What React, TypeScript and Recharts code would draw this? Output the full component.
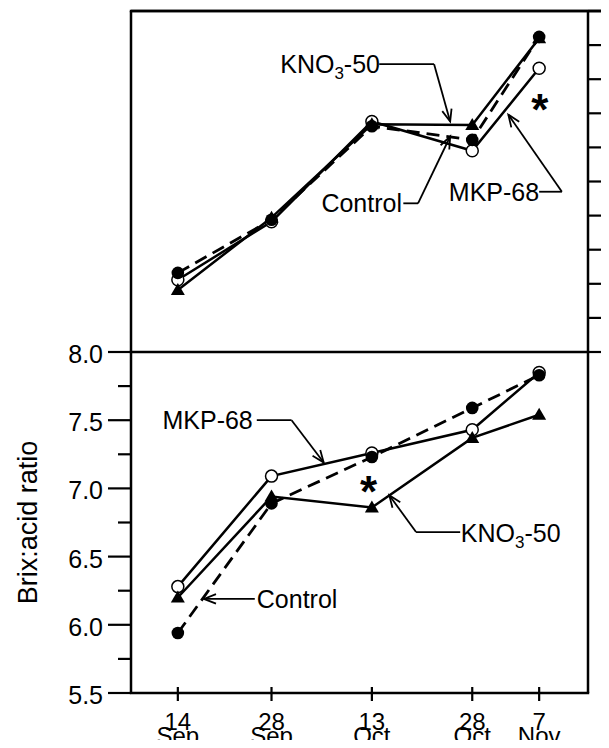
import { Label, Line, LineChart, ReferenceDot, ReferenceLine, XAxis, YAxis } from "recharts"

const FONT = "'Liberation Sans', Arial, Helvetica, sans-serif"

// sampling dates, counted as days from 31 Aug
const samplingDays = [14, 28, 43, 58, 68]
const dayLabels = ["14", "28", "13", "28", "7"]
const monthLabels = ["Sep", "Sep", "Oct", "Oct", "Nov"]

// upper panel (scale labels are cut off in the source)
const controlUpper = [10.16, 10.94, 12.31, 12.11, 13.62]
const mkpUpper = [10.06, 10.91, 12.38, 11.95, 13.16]
const knoUpper = [9.91, 10.97, 12.34, 12.33, 13.6]
const upperTicks = [9, 9.5, 10, 10.5, 11, 11.5, 12, 12.5, 13, 13.5, 14]

// lower panel: Brix:acid ratio
const controlRatio = [5.94, 6.89, 7.23, 7.59, 7.83]
const mkpRatio = [6.28, 7.09, 7.26, 7.43, 7.85]
const knoRatio = [6.2, 6.94, 6.86, 7.37, 7.54]
const ratioTicks = [5.5, 5.75, 6, 6.25, 6.5, 6.75, 7, 7.25, 7.5, 7.75, 8]

const upperRows = samplingDays.map((day, i) => ({ day, control: controlUpper[i], mkp: mkpUpper[i], kno: knoUpper[i] }))
const lowerRows = samplingDays.map((day, i) => ({ day, control: controlRatio[i], mkp: mkpRatio[i], kno: knoRatio[i] }))

type Pt = [number, number]
type Note = { text: string; at: Pt; anchor: "start" | "end"; path: Pt[] }

// annotation leaders, in data units (day, value)
const upperNotes: Note[] = [
  { text: "KNO3-50", at: [29.3, 13.22], anchor: "start", path: [[44.1, 13.22], [52.3, 13.22], [54.7, 12.38]] },
  { text: "Control", at: [47.5, 11.18], anchor: "end", path: [[47.7, 11.18], [49.9, 11.18], [54.7, 12.16]] },
  { text: "MKP-68", at: [68.0, 11.35], anchor: "end", path: [[68.0, 11.35], [71.4, 11.35], [63.4, 12.48]] },
]
const lowerNotes: Note[] = [
  { text: "MKP-68", at: [25.2, 7.5], anchor: "end", path: [[25.8, 7.5], [31.0, 7.5], [35.8, 7.19]] },
  { text: "KNO3-50", at: [56.3, 6.67], anchor: "start", path: [[56.2, 6.68], [49.6, 6.68], [45.6, 6.95]] },
  { text: "Control", at: [25.8, 6.19], anchor: "start", path: [[25.5, 6.19], [17.9, 6.19]] },
]
const upperStar: Pt = [68.1, 12.68]
const lowerStar: Pt = [42.5, 7.04]

// the top edge of the upper frame, in lower-panel units (same pixel scale, 341 px per 2.5)
const upperFrameTopInLowerUnits = 10.5

function isMajor(v: number) {
  return Math.abs(v * 2 - Math.round(v * 2)) < 1e-6
}

function RightTick(props: any) {
  const { x, y, payload } = props
  const long = Math.abs(payload.value - Math.round(payload.value)) < 1e-6
  return <line x1={x} y1={y} x2={x + (long ? 30 : 13)} y2={y} stroke="#000" strokeWidth={2.2} />
}

function LeftTick(props: any) {
  const { x, y, payload } = props
  const major = isMajor(payload.value)
  return (
    <g>
      <line x1={x - (major ? 23 : 13)} y1={y} x2={x} y2={y} stroke="#000" strokeWidth={2.2} />
      {major && (
        <text x={x - 28} y={y + 11} textAnchor="end" fontSize={25} fontFamily={FONT} fill="#000">
          {payload.value.toFixed(1)}
        </text>
      )}
    </g>
  )
}

function DateTick(props: any) {
  const { x, y, payload } = props
  const i = samplingDays.indexOf(payload.value)
  return (
    <g>
      <line x1={x} y1={y - 6} x2={x} y2={y + 8} stroke="#000" strokeWidth={2.2} />
      <text x={x} y={y + 37} textAnchor="middle" fontSize={24} fontFamily={FONT} fill="#000">{dayLabels[i]}</text>
      <text x={x} y={y + 51} textAnchor="middle" fontSize={24} fontFamily={FONT} fill="#000">{monthLabels[i]}</text>
    </g>
  )
}

const filledDot = (p: any) => <circle key={`f${p.index}`} cx={p.cx} cy={p.cy} r={6.3} fill="#000" />
const openDot = (p: any) => <circle key={`o${p.index}`} cx={p.cx} cy={p.cy} r={6} fill="#fff" stroke="#000" strokeWidth={1.5} />
const triDot = (p: any) => (
  <polygon key={`t${p.index}`} points={`${p.cx},${p.cy - 7} ${p.cx - 7},${p.cy + 5} ${p.cx + 7},${p.cy + 5}`} fill="#000" />
)

const segmentShape = (head: boolean) => (p: any) => {
  const { x1, y1, x2, y2 } = p
  const ang = Math.atan2(y2 - y1, x2 - x1)
  const len = 13
  const spread = 0.38
  const ax = x2 - len * Math.cos(ang - spread)
  const ay = y2 - len * Math.sin(ang - spread)
  const bx = x2 - len * Math.cos(ang + spread)
  const by = y2 - len * Math.sin(ang + spread)
  return (
    <g>
      <line x1={x1} y1={y1} x2={x2} y2={y2} stroke="#000" strokeWidth={1.8} />
      {head && <polyline points={`${ax},${ay} ${x2},${y2} ${bx},${by}`} fill="none" stroke="#000" strokeWidth={1.8} />}
    </g>
  )
}

function noteText(note: Note) {
  return (p: any) => {
    const sub = note.text.startsWith("KNO3")
    return (
      <text x={p.cx} y={p.cy + 9} textAnchor={note.anchor} fontSize={25} fontFamily={FONT} fill="#000">
        {sub ? (
          <>
            KNO<tspan dy={6} fontSize={17}>3</tspan>
            <tspan dy={-6}>-50</tspan>
          </>
        ) : (
          note.text
        )}
      </text>
    )
  }
}

const starShape = (p: any) => (
  <text x={p.cx} y={p.cy + 24} textAnchor="middle" fontSize={44} fontWeight="bold" fontFamily={FONT} fill="#000">*</text>
)

// full-width frame line (top/bottom edges of a panel)
const edgeShape = (extendRight: number) => (p: any) => (
  <line x1={p.x1 - 1.2} y1={p.y1} x2={p.x2 + extendRight} y2={p.y2} stroke="#000" strokeWidth={2.5} />
)

function renderNotes(notes: Note[], yAxisId: string | number) {
  const out: any[] = []
  notes.forEach((n, k) => {
    out.push(
      <ReferenceDot key={`t${k}`} yAxisId={yAxisId} x={n.at[0]} y={n.at[1]} r={0} ifOverflow="visible" shape={noteText(n)} />
    )
    for (let s = 0; s < n.path.length - 1; s++) {
      out.push(
        <ReferenceLine
          key={`s${k}-${s}`}
          yAxisId={yAxisId}
          ifOverflow="visible"
          segment={[{ x: n.path[s][0], y: n.path[s][1] }, { x: n.path[s + 1][0], y: n.path[s + 1][1] }]}
          shape={segmentShape(s === n.path.length - 2)}
        />
      )
    }
  })
  return out
}

const frameAxis = { stroke: "#000", strokeWidth: 2.5 }
const xDomain: [number, number] = [7, 75.3]

export default function App() {
  return (
    <div style={{ position: "relative", width: 609, height: 748, margin: -8, background: "#fff", fontFamily: FONT, overflow: "hidden" }}>
      <div style={{ position: "absolute", left: 0, top: 0 }}>
        <LineChart width={609} height={358} data={upperRows} margin={{ top: 11, right: 0, bottom: 6, left: 0 }}>
          <XAxis dataKey="day" type="number" domain={xDomain} allowDataOverflow hide />
          <YAxis yAxisId="frame" type="number" domain={[9, 14]} width={131} tick={false} tickLine={false} axisLine={frameAxis} />
          <YAxis
            yAxisId="main"
            orientation="right"
            type="number"
            domain={[9, 14]}
            ticks={upperTicks}
            interval={0}
            width={21}
            tickLine={false}
            tickSize={0}
            tickMargin={0}
            tick={<RightTick />}
            axisLine={frameAxis}
          />
          <Line yAxisId="main" type="linear" dataKey="mkp" stroke="#000" strokeWidth={2.5} dot={openDot} activeDot={false} isAnimationActive={false} />
          <Line yAxisId="main" type="linear" dataKey="kno" stroke="#000" strokeWidth={2.5} dot={triDot} activeDot={false} isAnimationActive={false} />
          <Line yAxisId="main" type="linear" dataKey="control" stroke="#000" strokeWidth={2.8} strokeDasharray="13 7" dot={filledDot} activeDot={false} isAnimationActive={false} />
          {renderNotes(upperNotes, "main")}
          <ReferenceDot yAxisId="main" x={upperStar[0]} y={upperStar[1]} r={0} ifOverflow="visible" shape={starShape} />
          <ReferenceLine yAxisId="main" ifOverflow="visible" segment={[{ x: xDomain[0], y: 14 }, { x: 80, y: 14 }]} stroke="#000" strokeWidth={2.5} />
        </LineChart>
      </div>
      <div style={{ position: "absolute", left: 0, top: 0 }}>
        <LineChart width={609} height={748} data={lowerRows} margin={{ top: 352, right: 0, bottom: 0, left: 0 }}>
          <XAxis
            dataKey="day"
            type="number"
            domain={xDomain}
            allowDataOverflow
            ticks={samplingDays}
            interval={0}
            height={55}
            tickLine={false}
            tickSize={0}
            tickMargin={0}
            tick={<DateTick />}
            axisLine={false}
          />
          <YAxis
            type="number"
            domain={[5.5, 8]}
            ticks={ratioTicks}
            interval={0}
            width={131}
            tickLine={false}
            tickSize={0}
            tickMargin={0}
            tick={<LeftTick />}
            axisLine={frameAxis}
          >
            <Label
              content={(p: any) => {
                const vb = p.viewBox || {}
                const cy = vb.height ? vb.y + vb.height / 2 : 522
                return (
                  <text x={37} y={cy} transform={`rotate(-90, 37, ${cy})`} textAnchor="middle" fontSize={27} fontFamily={FONT} fill="#000">
                    Brix:acid ratio
                  </text>
                )
              }}
            />
          </YAxis>
          <YAxis yAxisId="frame" orientation="right" type="number" domain={[5.5, 8]} width={21} tick={false} tickLine={false} axisLine={frameAxis} />
          <ReferenceLine y={8} ifOverflow="visible" shape={edgeShape(1.2)} />
          <ReferenceLine y={5.5} ifOverflow="visible" shape={edgeShape(1.2)} />
          <ReferenceLine y={upperFrameTopInLowerUnits} ifOverflow="visible" shape={edgeShape(25)} />
          <Line type="linear" dataKey="mkp" stroke="#000" strokeWidth={2.5} dot={openDot} activeDot={false} isAnimationActive={false} />
          <Line type="linear" dataKey="kno" stroke="#000" strokeWidth={2.5} dot={triDot} activeDot={false} isAnimationActive={false} />
          <Line type="linear" dataKey="control" stroke="#000" strokeWidth={2.8} strokeDasharray="13 7" dot={filledDot} activeDot={false} isAnimationActive={false} />
          {renderNotes(lowerNotes, 0)}
          <ReferenceDot x={lowerStar[0]} y={lowerStar[1]} r={0} ifOverflow="visible" shape={starShape} />
        </LineChart>
      </div>
    </div>
  )
}
